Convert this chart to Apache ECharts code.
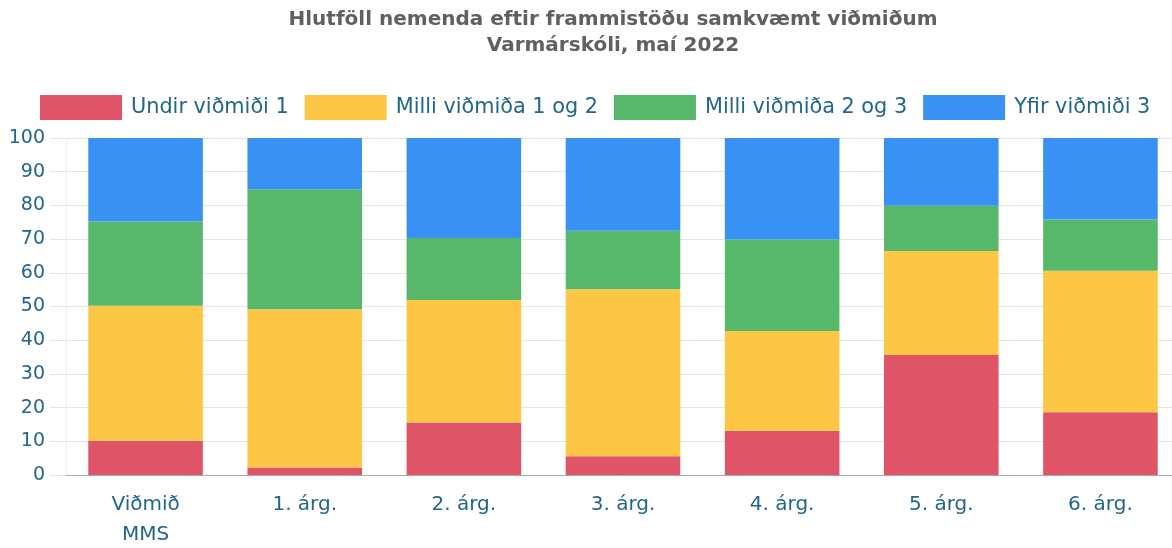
<!DOCTYPE html>
<html>
<head>
<meta charset="utf-8">
<script src="https://cdn.jsdelivr.net/npm/echarts@6/dist/echarts.min.js"></script>
<style>
  html, body { margin: 0; padding: 0; background: #fff; }
  #chart { width: 1172px; height: 548px; }
</style>
</head>
<body>
<div id="chart"></div>
<script>
const categories = ['Viðmið\nMMS', '1. árg.', '2. árg.', '3. árg.', '4. árg.', '5. árg.', '6. árg.']
const undir1 = [10.2, 2.2, 15.6, 5.6, 13.1, 35.6, 18.6]
const milli12 = [40.0, 47.0, 36.3, 49.5, 29.6, 30.9, 42.0]
const milli23 = [25.0, 35.6, 18.4, 17.4, 27.2, 13.4, 15.2]
const yfir3 = [24.8, 15.2, 29.7, 27.5, 30.1, 20.1, 24.2]
const yTicks = { min: 0, max: 100, interval: 10 }

const FONT = 'DejaVu Sans'
const TEXT_BLUE = '#22668a'

const chart = echarts.init(document.getElementById('chart'))

const makeSeries = (name, data, color) => ({
  name: name,
  type: 'bar',
  stack: 'total',
  barWidth: '72%',
  data: data,
  itemStyle: { color: color },
  emphasis: { disabled: true }
})

const option = {
  animation: false,
  title: {
    text: 'Hlutföll nemenda eftir frammistöðu samkvæmt viðmiðum\nVarmárskóli, maí 2022',
    left: 608,
    top: 2,
    textAlign: 'center',
    textStyle: {
      fontFamily: FONT,
      fontSize: 20,
      fontWeight: 'bold',
      color: '#606060',
      lineHeight: 26
    }
  },
  legend: {
    left: 35,
    top: 90,
    itemWidth: 82,
    itemHeight: 25,
    itemGap: 16,
    icon: 'rect',
    textStyle: {
      fontFamily: FONT,
      fontSize: 20.8,
      color: TEXT_BLUE,
      padding: [0, 0, 0, 4]
    }
  },
  grid: {
    left: 66,
    width: 1114,
    top: 138,
    bottom: 73,
    outerBoundsMode: 'none'
  },
  xAxis: {
    type: 'category',
    data: categories,
    axisLine: { lineStyle: { color: '#aaaaaa' } },
    axisTick: { show: false },
    axisLabel: {
      fontFamily: FONT,
      fontSize: 20,
      color: TEXT_BLUE,
      margin: 15,
      lineHeight: 30
    }
  },
  yAxis: {
    type: 'value',
    min: yTicks.min,
    max: yTicks.max,
    interval: yTicks.interval,
    axisLine: { show: true, lineStyle: { color: '#eeeeee' } },
    axisTick: { show: true, length: 16, lineStyle: { color: '#e4e4e4' } },
    splitLine: { lineStyle: { color: '#e4e4e4' } },
    axisLabel: {
      fontFamily: FONT,
      fontSize: 19,
      color: TEXT_BLUE,
      margin: 21
    }
  },
  series: [
    makeSeries('Undir viðmiði 1', undir1, '#e05468'),
    makeSeries('Milli viðmiða 1 og 2', milli12, '#fdc745'),
    makeSeries('Milli viðmiða 2 og 3', milli23, '#57b76a'),
    makeSeries('Yfir viðmiði 3', yfir3, '#3a91f4')
  ]
}

chart.setOption(option)
</script>
</body>
</html>
